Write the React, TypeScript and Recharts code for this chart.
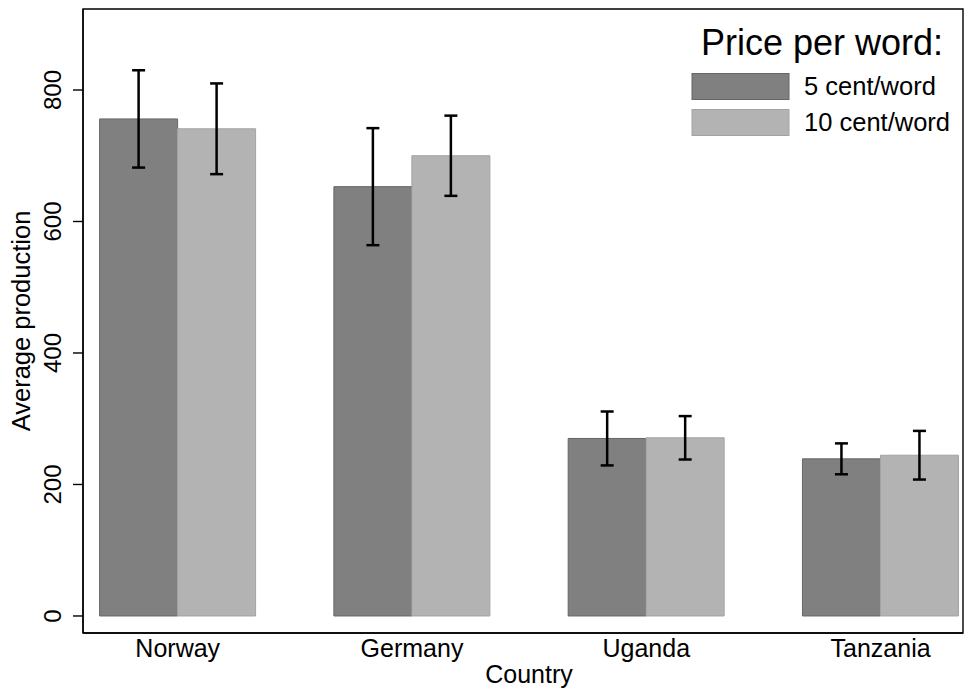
import React from 'react';
import { BarChart, Bar, XAxis, YAxis, ErrorBar, Legend, ReferenceArea } from 'recharts';

const countries = ['Norway', 'Germany', 'Uganda', 'Tanzania'];
const cent5 = [756, 653, 270, 239];
const cent5Err = [74, 89, 41, 23.5];
const cent10 = [741, 700, 271, 244.5];
const cent10Err = [69, 61, 33, 37];
const yTicks = [0, 200, 400, 600, 800];
const seriesNames = ['5 cent/word', '10 cent/word'];
const legendTitle = 'Price per word:';

const X_DOMAIN: [number, number] = [0.5956, 4.3518];
const Y_DOMAIN: [number, number] = [-25.9, 923.2];

const data = countries.map((c, i) => ({
  country: c,
  pos: i + 1,
  cent5: cent5[i],
  err5: cent5Err[i],
  cent10: cent10[i],
  err10: cent10Err[i],
}));

const FONT = '"Liberation Sans", Arial, Helvetica, sans-serif';

const YTick = (props: any) => {
  const { x, y, payload } = props;
  const bx = x - 10;
  return (
    <text x={bx} y={y} transform={`rotate(-90, ${bx}, ${y})`} textAnchor="middle" fontSize={24} fontFamily={FONT} fill="#000">
      {payload.value}
    </text>
  );
};

const XTick = (props: any) => {
  const { x, y, payload } = props;
  return (
    <text x={x} y={y} dy="0.71em" textAnchor="middle" fontSize={25} fontFamily={FONT} fill="#000">
      {countries[payload.value - 1]}
    </text>
  );
};

const LegendContent = (props: any) => {
  const payload = [...(props.payload || [])].sort(
    (a: any, b: any) => seriesNames.indexOf(a.value) - seriesNames.indexOf(b.value)
  );
  return (
    <svg width={300} height={140} style={{ display: 'block', overflow: 'visible' }}>
      <text x={263} y={47} textAnchor="end" fontSize={36} fontFamily={FONT} fill="#000">{legendTitle}</text>
      {payload.map((p: any, i: number) => (
        <g key={i}>
          <rect x={12} y={65.5 + i * 36} width={97} height={26} fill={p.color} stroke={i === 0 ? '#666' : '#a3a3a3'} strokeWidth={1} />
          <text x={124} y={87 + i * 36} fontSize={25.5} fontFamily={FONT} fill="#000">{p.value}</text>
        </g>
      ))}
    </svg>
  );
};

export default function App() {
  return (
    <div style={{ position: 'absolute', left: 0, top: 0, background: '#fff' }}>
      <BarChart
        width={965}
        height={693}
        data={data}
        margin={{ top: 9, right: 2, bottom: 0, left: 0 }}
        barGap={0}
        barSize={78}
      >
        <XAxis
          dataKey="pos"
          type="number"
          domain={X_DOMAIN}
          allowDataOverflow
          ticks={[1, 2, 3, 4]}
          interval={0}
          height={60}
          tickLine={false}
          tickSize={0}
          tickMargin={6}
          axisLine={{ stroke: '#000', strokeWidth: 1.4 }}
          tick={<XTick />}
          label={{
            content: (p: any) => {
              const vb = p.viewBox;
              return (
                <text x={vb.x + vb.width / 2 + 6} y={683} textAnchor="middle" fontSize={25} fontFamily={FONT} fill="#000">
                  Country
                </text>
              );
            },
          }}
        />
        <YAxis
          type="number"
          domain={Y_DOMAIN}
          allowDataOverflow
          ticks={yTicks}
          width={83}
          tickSize={10}
          tickLine={{ stroke: '#000', strokeWidth: 1.4 }}
          axisLine={{ stroke: '#000', strokeWidth: 1.4 }}
          tick={<YTick />}
          label={{
            content: (p: any) => {
              const vb = p.viewBox;
              const cx = 30;
              const cy = vb.y + vb.height / 2;
              return (
                <text x={cx} y={cy} transform={`rotate(-90, ${cx}, ${cy})`} textAnchor="middle" fontSize={25.5} fontFamily={FONT} fill="#000">
                  Average production
                </text>
              );
            },
          }}
        />
        <ReferenceArea
          x1={X_DOMAIN[0]}
          x2={X_DOMAIN[1]}
          y1={Y_DOMAIN[0]}
          y2={Y_DOMAIN[1]}
          fill="none"
          fillOpacity={0}
          stroke="#000"
          strokeWidth={1.4}
          ifOverflow="visible"
        />
        <Legend
          layout="vertical"
          align="center"
          verticalAlign="middle"
          content={<LegendContent />}
          wrapperStyle={{ left: 680, top: 8, width: 300, height: 140 }}
        />
        <Bar dataKey="cent5" name={seriesNames[0]} fill="#808080" stroke="#666" strokeWidth={1} isAnimationActive={false}>
          <ErrorBar dataKey="err5" width={6.5} stroke="#000" strokeWidth={2.5} direction="y" isAnimationActive={false} />
        </Bar>
        <Bar dataKey="cent10" name={seriesNames[1]} fill="#b3b3b3" stroke="#a3a3a3" strokeWidth={1} isAnimationActive={false}>
          <ErrorBar dataKey="err10" width={6.5} stroke="#000" strokeWidth={2.5} direction="y" isAnimationActive={false} />
        </Bar>
      </BarChart>
    </div>
  );
}
